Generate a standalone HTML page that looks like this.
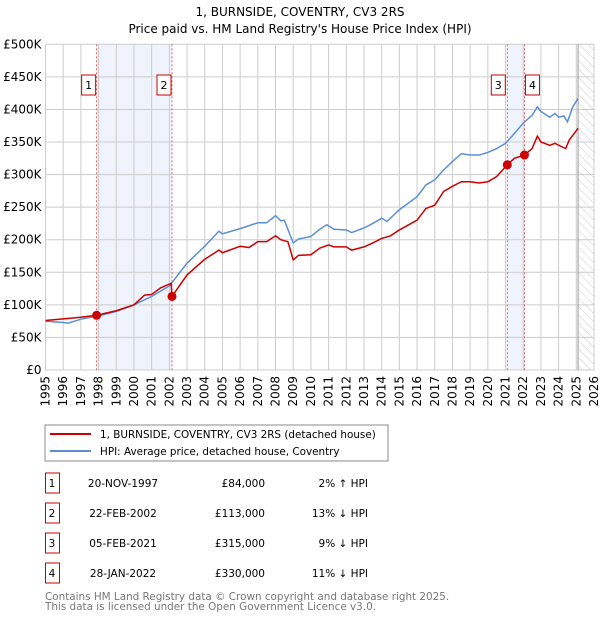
<!DOCTYPE html>
<html><head><meta charset="utf-8"><style>
body{margin:0;background:#fff;font-family:"DejaVu Sans","Liberation Sans",sans-serif;}
svg text{font-family:"DejaVu Sans","Liberation Sans",sans-serif;}
</style></head><body>
<svg id="c" width="600" height="620" xmlns="http://www.w3.org/2000/svg">
<defs><pattern id="hatch" width="6" height="6" patternUnits="userSpaceOnUse" patternTransform="rotate(-45)"><line x1="0" y1="0" x2="0" y2="6" stroke="#ccc" stroke-width="1"/></pattern></defs>
<text x="300" y="16" text-anchor="middle" font-size="12">1, BURNSIDE, COVENTRY, CV3 2RS</text>
<text x="300" y="33" text-anchor="middle" font-size="12">Price paid vs. HM Land Registry's House Price Index (HPI)</text>
<g id="plot"></g>
<rect x="45" y="425" width="343" height="36" fill="#fff" stroke="#888"/>
<line x1="50" y1="434" x2="91" y2="434" stroke="#cc0000" stroke-width="2"/>
<text x="100" y="438" font-size="10.4">1, BURNSIDE, COVENTRY, CV3 2RS (detached house)</text>
<line x1="50" y1="451" x2="91" y2="451" stroke="#5b8fd4" stroke-width="2"/>
<text x="100" y="455" font-size="10.4">HPI: Average price, detached house, Coventry</text>
<g id="tbl"></g>
<text x="45" y="600" font-size="10.4" fill="#777">Contains HM Land Registry data © Crown copyright and database right 2025.</text>
<text x="45" y="610" font-size="10.4" fill="#777">This data is licensed under the Open Government Licence v3.0.</text>
</svg>
<script>
const hpiYears=[1995,1996,1996.3,1997,1998,1999,2000,2001,2002,2003,2004,2004.8,2005,2006,2007,2007.5,2008,2008.3,2008.5,2009,2009.3,2010,2010.5,2010.9,2011.3,2012,2012.3,2013,2013.5,2014,2014.3,2015,2016,2016.5,2017,2017.5,2018,2018.5,2019,2019.5,2020,2020.5,2021,2021.5,2022,2022.5,2022.8,2023,2023.5,2023.8,2024,2024.3,2024.5,2024.8,2025.1];
const hpiValues=[75,73,72,78,83,90,100,113,129,164,190,213,209,217,226,226,237,229,230,195,201,205,216,223,216,215,211,218,225,233,228,246,266,284,292,307,320,332,330,330,334,340,348,363,379,391,404,397,388,394,388,390,381,404,417];
const ppYears=[1995,1997,1997.89,1999,2000,2000.6,2001,2001.5,2002.1,2002.15,2003,2004,2004.8,2005,2006,2006.5,2007,2007.5,2008,2008.3,2008.7,2009,2009.3,2010,2010.5,2011,2011.3,2012,2012.3,2013,2013.5,2014,2014.5,2015,2016,2016.5,2017,2017.5,2018,2018.5,2019,2019.5,2020,2020.5,2021.1,2021.5,2022.07,2022.5,2022.8,2023,2023.5,2023.8,2024,2024.4,2024.6,2025.1];
const ppValues=[76,81,84,91,100,115,116,126,133,113,146,170,184,180,190,188,197,197,206,200,197,169,176,177,187,192,189,189,184,189,195,202,206,215,230,248,253,274,282,289,289,287,289,297,315,325,330,340,359,350,345,348,345,340,353,371];
const saleLabels=["1","2","3","4"];
const saleYears=[1997.89,2002.15,2021.1,2022.07];
const saleValues=[84,113,315,330];
const saleDates=["20-NOV-1997","22-FEB-2002","05-FEB-2021","28-JAN-2022"];
const salePrices=["£84,000","£113,000","£315,000","£330,000"];
const saleHpi=["2% ↑ HPI","13% ↓ HPI","9% ↓ HPI","11% ↓ HPI"];
const yTicks=[0,50,100,150,200,250,300,350,400,450,500];
const yTickLabels=["£0","£50K","£100K","£150K","£200K","£250K","£300K","£350K","£400K","£450K","£500K"];
const xTicks=[1995,1996,1997,1998,1999,2000,2001,2002,2003,2004,2005,2006,2007,2008,2009,2010,2011,2012,2013,2014,2015,2016,2017,2018,2019,2020,2021,2022,2023,2024,2025,2026];
const L=45.5,R=594,T=44.3,B=370;
const X=y=>L+(y-1995)/31*(R-L);
const Y=v=>B-v/500*(B-T);
const NS="http://www.w3.org/2000/svg";
function mk(p,t,a){const e=document.createElementNS(NS,t);for(const k in a)e.setAttribute(k,a[k]);p.appendChild(e);return e;}
const g=document.getElementById('plot');
for(const [a,b] of [[0,1],[2,3]]){
 const r=mk(g,'rect',{x:X(saleYears[a]),y:T,width:X(saleYears[b])-X(saleYears[a]),height:B-T,fill:'#eef3fc'});
 
 
}
const h=mk(g,'rect',{x:X(2025.1),y:T,width:R-X(2025.1),height:B-T,fill:'url(#hatch)'});


yTicks.forEach((v,i)=>{
 const l=mk(g,'line',{x1:L,x2:R,y1:Y(v),y2:Y(v),stroke:'#ccc'});
 
 
 const t=mk(g,'text',{x:L-4,y:Y(v)+4,'text-anchor':'end','font-size':'12'});
 t.textContent=yTickLabels[i];
 
 
});
xTicks.forEach(v=>{
 const l=mk(g,'line',{x1:X(v),x2:X(v),y1:T,y2:B,stroke:'#ccc'});
 
 
 const t=mk(g,'text',{x:X(v)+4,y:B+6,'text-anchor':'end','font-size':'12',transform:`rotate(-90 ${X(v)+4} ${B+6})`});
 t.textContent=v;
 
 
});
const vl=mk(g,'line',{x1:X(2025.1),x2:X(2025.1),y1:T,y2:B,stroke:'#999'});


saleYears.forEach((yr,i)=>{
 const l=mk(g,'line',{x1:X(yr),x2:X(yr),y1:T,y2:B,stroke:'#e06666','stroke-dasharray':'2,2'});
 
 
 const bx=(i==2)?X(yr)-16:(i==3?X(yr)+1:X(yr)-15);
 const r=mk(g,'rect',{x:bx,y:75,width:14,height:20,fill:'#fff',stroke:'#cc0000'});
 
 
 const t=mk(g,'text',{x:bx+7,y:89,'text-anchor':'middle','font-size':'11'});
 t.textContent=saleLabels[i];
 
 
});
const hp=mk(g,'polyline',{points:hpiYears.map((y,i)=>X(y)+','+Y(hpiValues[i])).join(' '),fill:'none',stroke:'#5b8fd4','stroke-width':'1.5'});


const pp=mk(g,'polyline',{points:ppYears.map((y,i)=>X(y)+','+Y(ppValues[i])).join(' '),fill:'none',stroke:'#cc0000','stroke-width':'1.5'});


saleYears.forEach((yr,i)=>{
 const c=mk(g,'circle',{cx:X(yr),cy:Y(saleValues[i]),r:4.5,fill:'#cc0000'});
 
 
});
const tb=document.getElementById('tbl');
saleLabels.forEach((s,i)=>{
 const cy=483+i*30;
 const r=mk(tb,'rect',{x:45.5,y:cy-10,width:14,height:20,fill:'#fff',stroke:'#cc0000'});
 
 
 const cells=[[52,s,'middle'],[123,saleDates[i],'middle'],[265,salePrices[i],'end'],[368,saleHpi[i],'end']];
 cells.forEach(([x,txt,a])=>{
  const t=mk(tb,'text',{x:x,y:cy+4,'text-anchor':a,'font-size':'10.5'});
  t.textContent=txt;
  
  
 });
});
</script>
</body></html>
